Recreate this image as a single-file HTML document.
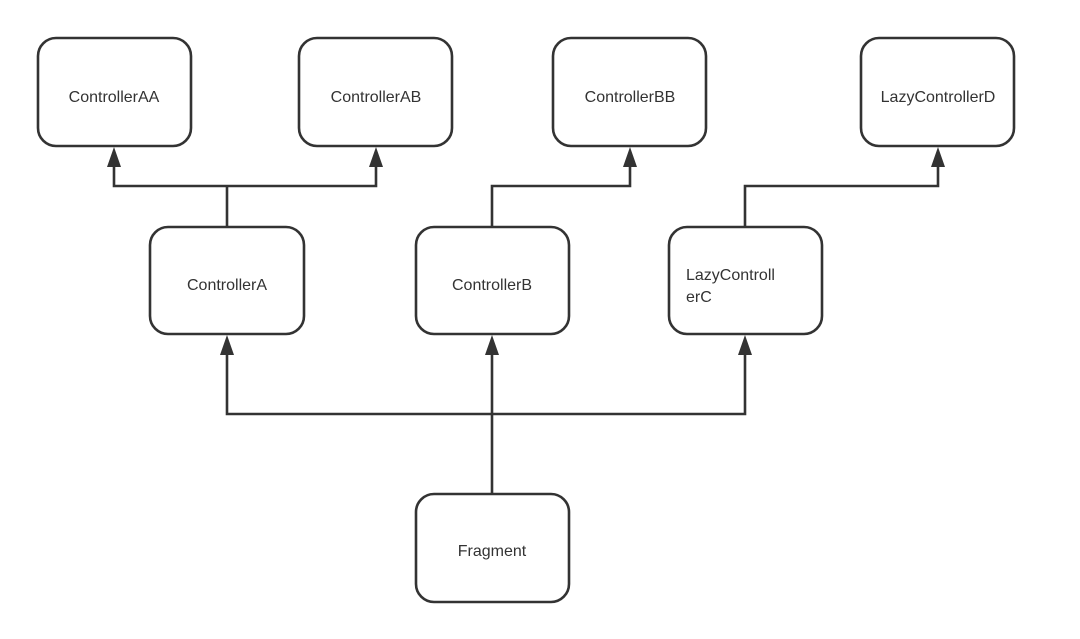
<!DOCTYPE html>
<html><head><style>
body{margin:0;background:#fff;}
svg{display:block;}
text{font-family:"Liberation Sans",sans-serif;font-size:16px;fill:#333;text-anchor:middle;}
</style></head><body>
<svg width="1080" height="639" viewBox="0 0 1080 639">
<g fill="none" stroke="#333" stroke-width="2.6">
<rect x="38" y="38" width="153" height="108" rx="18"/>
<rect x="299" y="38" width="153" height="108" rx="18"/>
<rect x="553" y="38" width="153" height="108" rx="18"/>
<rect x="861" y="38" width="153" height="108" rx="18"/>
<rect x="150" y="227" width="154" height="107" rx="18"/>
<rect x="416" y="227" width="153" height="107" rx="18"/>
<rect x="669" y="227" width="153" height="107" rx="18"/>
<rect x="416" y="494" width="153" height="108" rx="18"/>
<polyline points="114,165 114,186 376,186 376,165"/>
<line x1="227" y1="186" x2="227" y2="227"/>
<polyline points="492,227 492,186 630,186 630,165"/>
<polyline points="745,227 745,186 938,186 938,165"/>
<line x1="492" y1="494" x2="492" y2="352"/>
<polyline points="227,352 227,414 745,414 745,352"/>
</g>
<g fill="#333">
<polygon points="114,147 107,167 121,167"/>
<polygon points="376,147 369,167 383,167"/>
<polygon points="630,147 623,167 637,167"/>
<polygon points="938,147 931,167 945,167"/>
<polygon points="227,335 220,355 234,355"/>
<polygon points="492,335 485,355 499,355"/>
<polygon points="745,335 738,355 752,355"/>
</g>
<text x="114" y="102">ControllerAA</text>
<text x="376" y="102">ControllerAB</text>
<text x="630" y="102">ControllerBB</text>
<text x="938" y="102">LazyControllerD</text>
<text x="227" y="290">ControllerA</text>
<text x="492" y="290">ControllerB</text>
<text x="686" y="280" style="text-anchor:start">LazyControll</text>
<text x="686" y="302" style="text-anchor:start">erC</text>
<text x="492" y="556">Fragment</text>
</svg>
</body></html>
